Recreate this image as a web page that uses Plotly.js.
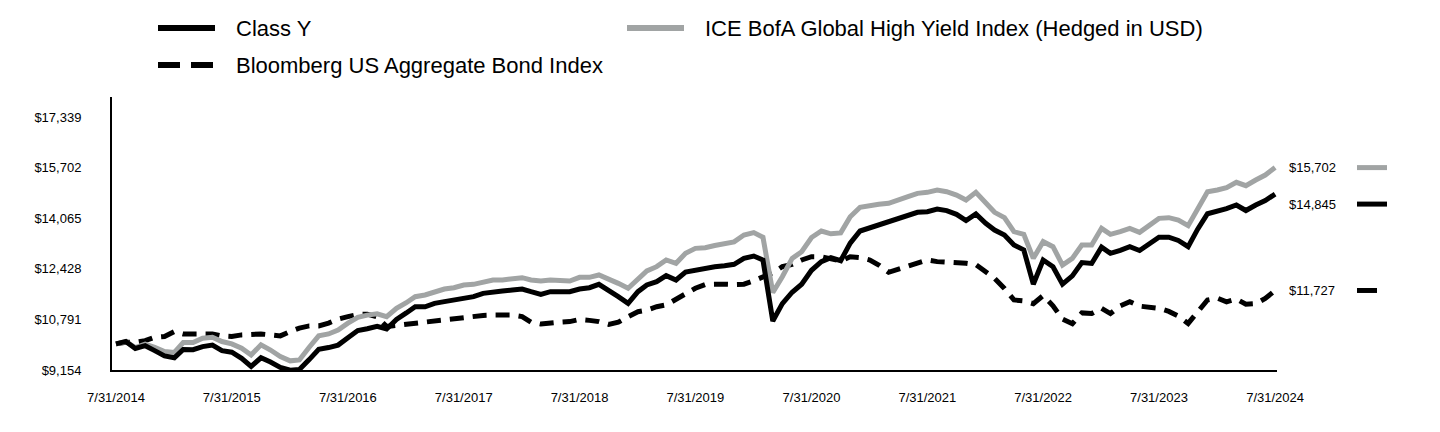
<!DOCTYPE html>
<html><head><meta charset="utf-8">
<script src="https://cdn.plot.ly/plotly-3.0.1.min.js"></script>
<style>html,body{margin:0;padding:0;background:#fff;}#chart{width:1440px;height:432px;}</style>
</head><body><div id="chart"></div>
<script>
// ---- data ----
const seriesNames = ["Class Y", "ICE BofA Global High Yield Index (Hedged in USD)", "Bloomberg US Aggregate Bond Index"];
const classY = [10000,10080,9850,9940,9780,9610,9550,9820,9810,9910,9960,9780,9730,9530,9270,9550,9410,9240,9150,9170,9490,9820,9880,9960,10200,10430,10490,10570,10480,10790,
11000,11200,11200,11311,11365,11419,11494,11526,11634,11688,11710,11742,11774,11688,11602,11688,11688,11688,11774,11817,11925,11742,11526,11311,11688,11904,12012,12205,12066,12320,
12389,12464,12496,12529,12572,12766,12840,12710,10740,11300,11670,11930,12380,12660,12790,12690,13260,13651,13758,13823,13931,14060,14168,14255,14276,14362,14310,14190,13990,14200,
13900,13683,13521,13200,13040,11930,12713,12496,11930,12200,12630,12600,13127,12928,13025,13144,13020,13252,13450,13450,13345,13144,13710,14210,14276,14374,14492,14314,14492,14638,14845];
const iceHY = [10000,10070,9880,9990,9890,9750,9720,10040,10040,10180,10215,10075,10000,9860,9640,9970,9800,9590,9450,9480,9890,10260,10320,10450,10670,10860,10930,10970,10880,11150,
11330,11526,11580,11688,11774,11817,11904,11925,12012,12066,12066,12098,12141,12066,12033,12066,12033,12033,12152,12152,12228,12098,11958,11796,12120,12357,12497,12713,12605,12930,
13090,13110,13180,13250,13300,13520,13600,13450,11660,12170,12766,12980,13440,13650,13560,13590,14110,14420,14480,14513,14545,14670,14761,14869,14902,14977,14923,14815,14653,14902,
14550,14255,14082,13629,13543,12766,13306,13144,12550,12766,13198,13198,13737,13543,13629,13737,13608,13845,14060,14082,14006,13823,14384,14923,14977,15052,15225,15117,15300,15462,15702];
const bbgAgg = [10000,10050,10050,10105,10215,10240,10400,10320,10320,10320,10320,10258,10240,10290,10320,10320,10290,10258,10400,10510,10580,10580,10670,10800,10880,10950,10960,10870,10560,10600,
10610,10640,10680,10720,10760,10800,10870,10900,10920,10930,10930,10930,10880,10700,10640,10650,10700,10720,10790,10760,10720,10630,10700,10880,11040,11090,11200,11260,11440,11600,
11800,11920,11940,11930,11920,11930,12040,12180,12300,12496,12570,12713,12820,12820,12740,12680,12820,12790,12713,12550,12313,12421,12496,12604,12713,12660,12650,12610,12604,12560,
12330,12120,11790,11420,11390,11300,11560,11230,10800,10650,11000,10980,11150,10980,11230,11364,11220,11180,11150,11050,10900,10660,11050,11420,11480,11360,11450,11280,11300,11470,11727];
const endLabels = ["$15,702", "$14,845", "$11,727"];
const yTickVals = [9154, 10791, 12428, 14065, 15702, 17339];
const yTickText = ["$9,154", "$10,791", "$12,428", "$14,065", "$15,702", "$17,339"];
const xTickVals = ["2014-07-31","2015-07-31","2016-07-31","2017-07-31","2018-07-31","2019-07-31","2020-07-31","2021-07-31","2022-07-31","2023-07-31","2024-07-31"];
const xTickText = ["7/31/2014","7/31/2015","7/31/2016","7/31/2017","7/31/2018","7/31/2019","7/31/2020","7/31/2021","7/31/2022","7/31/2023","7/31/2024"];

// month-end dates 7/31/2014 .. 7/31/2024
function pad(n){return (n<10?'0':'')+n;}
const dates = classY.map((_, i) => {
  const d = new Date(Date.UTC(2014, 7 + i, 0));
  return d.getUTCFullYear() + '-' + pad(d.getUTCMonth()+1) + '-' + pad(d.getUTCDate());
});

// ---- layout geometry ----
const W = 1440, H = 432;
const L = 112, R = 1277, T = 97, B = 370;
const pw = R - L, ph = B - T;
const px = v => (v - L) / pw;        // pixel x -> paper
const py = v => (B - v) / ph;        // pixel y -> paper

const FONT = "Liberation Sans, Arial, sans-serif";
const BLACK = "#000000", GRAY = "#A1A4A4";
const DASH = "14px,9px";

const traces = [
  {x: dates, y: bbgAgg, name: seriesNames[2], mode: "lines", line: {color: BLACK, width: 5, dash: DASH}},
  {x: dates, y: iceHY, name: seriesNames[1], mode: "lines", line: {color: GRAY, width: 5}},
  {x: dates, y: classY, name: seriesNames[0], mode: "lines", line: {color: BLACK, width: 5}}
];

const shapes = [];
const annotations = [];

// manual legend
const legendItems = [
  {name: seriesNames[0], color: BLACK, dash: "solid", x: 158, y: 28},
  {name: seriesNames[1], color: GRAY, dash: "solid", x: 627, y: 28},
  {name: seriesNames[2], color: BLACK, dash: "22px,11px", x: 158, y: 65}
];
legendItems.forEach(it => {
  shapes.push({type: "line", xref: "paper", yref: "paper", x0: px(it.x), x1: px(it.x + 57), y0: py(it.y), y1: py(it.y),
    line: {color: it.color, width: 6, dash: it.dash}});
  annotations.push({xref: "paper", yref: "paper", x: px(it.x + 76), y: py(it.y), xanchor: "left", yanchor: "middle",
    text: it.name, showarrow: false, font: {family: FONT, size: 22, color: "#000"}});
});

// end-value labels
const ends = [
  {label: endLabels[0], val: iceHY[iceHY.length-1], color: GRAY, len: 30, shift: 0},
  {label: endLabels[1], val: classY[classY.length-1], color: BLACK, len: 30, shift: -10},
  {label: endLabels[2], val: bbgAgg[bbgAgg.length-1], color: BLACK, len: 20, shift: 0}
];
ends.forEach(e => {
  annotations.push({xref: "paper", yref: "y", x: px(1287), y: e.val, yshift: e.shift, xanchor: "left", yanchor: "middle",
    text: e.label, showarrow: false, font: {family: FONT, size: 13, color: "#000"}});
  shapes.push({type: "line", xref: "paper", yref: "y", ysizemode: "pixel", yanchor: e.val,
    x0: px(1357), x1: px(1357 + e.len), y0: e.shift, y1: e.shift, line: {color: e.color, width: 5}});
});

const layout = {
  width: W, height: H,
  margin: {l: L, r: W - R, t: T, b: H - B, pad: 0},
  paper_bgcolor: "#fff", plot_bgcolor: "#fff",
  showlegend: false,
  font: {family: FONT, size: 13, color: "#000"},
  xaxis: {
    type: "date", range: ["2014-07-18 12:00", "2024-08-06"],
    tickvals: xTickVals, ticktext: xTickText, tickfont: {family: FONT, size: 13, color: "#000"},
    showgrid: false, zeroline: false, showline: true, linecolor: "#000", linewidth: 2,
    ticks: "", ticklabelstandoff: 14
  },
  yaxis: {
    range: [9154, 17986], tickvals: yTickVals, ticktext: yTickText,
    tickfont: {family: FONT, size: 13, color: "#000"},
    showgrid: false, zeroline: false, showline: true, linecolor: "#000", linewidth: 2,
    ticks: "", ticklabelstandoff: 26
  },
  shapes: shapes,
  annotations: annotations,
  hovermode: false
};

Plotly.newPlot("chart", traces, layout, {displayModeBar: false, staticPlot: true});
</script>
</body></html>
